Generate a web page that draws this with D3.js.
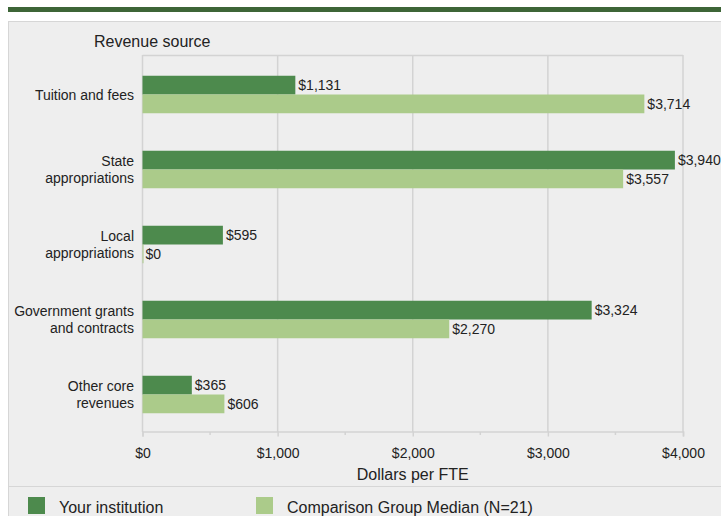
<!DOCTYPE html>
<html>
<head>
<meta charset="utf-8">
<script src="https://cdn.jsdelivr.net/npm/d3@7"></script>
<style>
  body { margin: 0; background: #fff; }
  svg { display: block; font-family: 'Liberation Sans', Arial, sans-serif; }
</style>
</head>
<body>
<div id="chart"></div>
<script>
  'use strict';

  const categories = [
    ['Tuition and fees'],
    ['State', 'appropriations'],
    ['Local', 'appropriations'],
    ['Government grants', 'and contracts'],
    ['Other core', 'revenues']
  ];
  const yourInstitution = [1131, 3940, 595, 3324, 365];
  const comparisonMedian = [3714, 3557, 0, 2270, 606];
  const xTicks = [0, 1000, 2000, 3000, 4000];
  const seriesNames = ['Your institution', 'Comparison Group Median (N=21)'];

  const WIDTH = 721;
  const HEIGHT = 516;
  const DARK = '#4d8a4d';
  const LIGHT = '#abcb8a';
  const GRID = '#d3d3d3';
  const FONT = 'Liberation Sans, Arial, sans-serif';

  let svg = d3.select('#chart')
    .append('svg')
    .attr('width', WIDTH)
    .attr('height', HEIGHT);

  // Top rule and panel.
  svg.append('rect')
    .attr('x', 8).attr('y', 7)
    .attr('width', WIDTH - 8).attr('height', 5)
    .style('fill', '#3d6537');

  svg.append('rect')
    .attr('x', 8.5).attr('y', 21.5)
    .attr('width', WIDTH + 10).attr('height', HEIGHT)
    .style('fill', '#eeeeee')
    .style('stroke', '#d6d6d6');

  svg.append('line')
    .attr('x1', 8).attr('x2', WIDTH)
    .attr('y1', 486.5).attr('y2', 486.5)
    .style('stroke', '#d6d6d6');

  let margin = {top: 57, left: 142.5, right: 683, bottom: 432};

  let x = d3.scaleLinear()
    .domain([0, 4000])
    .range([margin.left, margin.right]);

  let y = d3.scaleBand()
    .domain(d3.range(categories.length))
    .range([margin.top, margin.bottom])
    .paddingInner(0.5)
    .paddingOuter(0.25);

  let sub = d3.scaleBand()
    .domain([0, 1])
    .range([0, y.bandwidth()]);

  // Grid lines.
  svg.append('g')
    .selectAll('line')
    .data(xTicks)
    .enter()
    .append('line')
    .attr('x1', d => x(d)).attr('x2', d => x(d))
    .attr('y1', 55).attr('y2', margin.bottom)
    .style('stroke', GRID)
    .style('stroke-width', 1.5);

  svg.append('line')
    .attr('x1', margin.left).attr('x2', margin.right)
    .attr('y1', 55.5).attr('y2', 55.5)
    .style('stroke', GRID)
    .style('stroke-width', 1.5);

  // Bottom axis.
  let axis = svg.append('g')
    .attr('transform', 'translate(0,' + (margin.bottom - 0.5) + ')')
    .call(d3.axisBottom(x).tickValues(xTicks).tickSize(5).tickFormat(d => '$' + d3.format(',')(d)));
  axis.select('.domain').style('stroke', GRID).style('stroke-width', 1.5);
  axis.selectAll('.tick line').style('stroke', GRID).style('stroke-width', 1.5);
  axis.selectAll('.tick text')
    .attr('dy', null).attr('y', 26.5)
    .style('font-size', '14px').style('fill', '#222')
    .style('font-family', FONT);

  // Minor ticks.
  svg.append('g')
    .selectAll('line')
    .data([500, 1500, 2500, 3500])
    .enter()
    .append('line')
    .attr('x1', d => x(d)).attr('x2', d => x(d))
    .attr('y1', margin.bottom).attr('y2', margin.bottom + 3)
    .style('stroke', GRID)
    .style('stroke-width', 1.5);

  svg.append('text')
    .attr('x', (margin.left + margin.right) / 2)
    .attr('y', 480)
    .attr('text-anchor', 'middle')
    .style('font-size', '16px').style('fill', '#222')
    .text('Dollars per FTE');

  svg.append('text')
    .attr('x', 94).attr('y', 47)
    .style('font-size', '16px').style('fill', '#222')
    .text('Revenue source');

  // Bars.
  let rows = categories.map((c, i) => ({
    i: i,
    values: [yourInstitution[i], comparisonMedian[i]]
  }));

  let group = svg.append('g')
    .selectAll('g')
    .data(rows)
    .enter()
    .append('g')
    .attr('transform', d => 'translate(0,' + y(d.i) + ')');

  group.selectAll('rect')
    .data(d => d.values.map((v, s) => ({v: v, s: s})))
    .enter()
    .append('rect')
    .attr('x', x(0))
    .attr('y', d => sub(d.s))
    .attr('width', d => Math.max(x(d.v) - x(0), d.v === 0 ? 1 : 0))
    .attr('height', sub.bandwidth())
    .style('fill', d => d.s === 0 ? DARK : LIGHT);

  group.selectAll('text.val')
    .data(d => d.values.map((v, s) => ({v: v, s: s})))
    .enter()
    .append('text')
    .attr('class', 'val')
    .attr('x', d => x(d.v) + 3)
    .attr('y', d => sub(d.s) + sub.bandwidth() / 2 + 5)
    .style('font-size', '14px').style('fill', '#222')
    .text(d => '$' + d3.format(',')(d.v));

  // Category labels.
  group.append('text')
    .attr('text-anchor', 'end')
    .style('font-size', '14px').style('fill', '#222')
    .selectAll('tspan')
    .data(d => categories[d.i].map((t, k, arr) => ({t: t, k: k, n: arr.length})))
    .enter()
    .append('tspan')
    .attr('x', 134)
    .attr('y', d => y.bandwidth() / 2 + 5 + (d.k - (d.n - 1) / 2) * 17)
    .text(d => d.t);

  // Legend.
  let legend = svg.append('g')
    .selectAll('g')
    .data(seriesNames)
    .enter()
    .append('g')
    .attr('transform', (d, i) => 'translate(' + (i === 0 ? 28 : 256) + ',497)');

  legend.append('rect')
    .attr('width', 17).attr('height', 17)
    .style('fill', (d, i) => i === 0 ? DARK : LIGHT);

  legend.append('text')
    .attr('x', 31).attr('y', 15.5)
    .style('font-size', '16px').style('fill', '#222')
    .text(d => d);
</script>
</body>
</html>
